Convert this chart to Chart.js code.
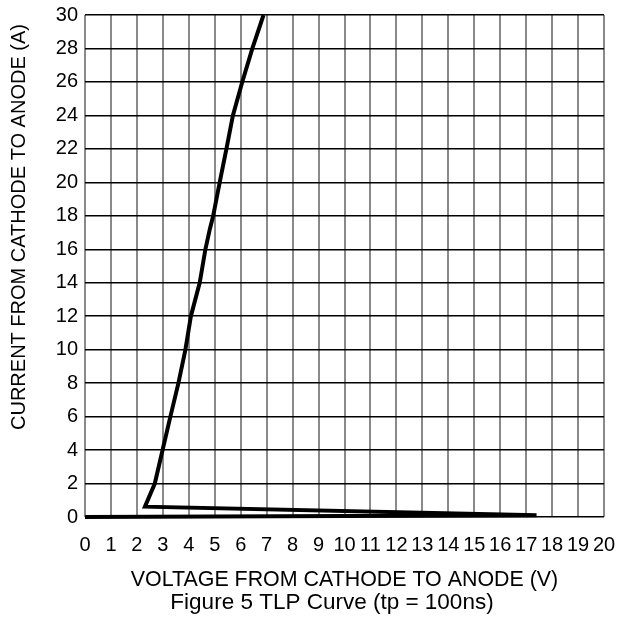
<!DOCTYPE html>
<html>
<head>
<meta charset="utf-8">
<script src="https://cdn.jsdelivr.net/npm/chart.js@4/dist/chart.umd.min.js"></script>
<style>
	html, body { margin: 0; padding: 0; background: #fff; }
	#wrap { width: 621px; height: 617px; position: relative; }
</style>
</head>
<body>
<div id="wrap"><canvas id="tlp_chart"></canvas></div>
<script>
// TLP curve: voltage (V) vs current (A)
var voltage = [0, 17.4, 2.31, 2.69, 2.99, 3.29, 3.60, 3.87, 4.08, 4.42, 4.64, 4.81, 4.94, 5.19, 5.45, 5.70, 6.06, 6.45, 6.88];
var current = [0, 0.10, 0.62, 2, 4, 6, 8, 10, 12, 14, 16, 17.2, 18, 20, 22, 24, 26, 28, 30];

var xMin = 0, xMax = 20, xStep = 1;
var yMin = 0, yMax = 30, yStep = 2;

var xTitle = "VOLTAGE FROM CATHODE TO ANODE (V)";
var yTitle = "CURRENT FROM CATHODE TO ANODE (A)";
var caption = "Figure 5 TLP Curve (tp = 100ns)";

var FONT = "'Liberation Sans', Arial, sans-serif";

var points = [];
for (var ix = 0; ix < voltage.length; ix++) {
	points.push({x: voltage[ix], y: current[ix]});
}

// y title and figure caption drawn by hand, both sit off-centre in the original
var extraTextPlugin = {
	id: 'extraText',
	afterDraw: function(chart) {
		var ctx = chart.ctx;
		ctx.save();
		ctx.fillStyle = "#000";
		ctx.textAlign = "center";
		ctx.textBaseline = "middle";

		ctx.font = "22.5px " + FONT;
		ctx.fillText(caption, 332, 603);

		ctx.translate(19, 227);
		ctx.rotate(-Math.PI / 2);
		ctx.font = "20px " + FONT;
		ctx.fillText(yTitle, 0, 0);
		ctx.restore();
	}
};

var ctx = document.getElementById("tlp_chart");
var tlpChart = new Chart(ctx, {
	type: 'scatter',
	data: {
		datasets: [{
			data: points,
			showLine: true,
			borderColor: "#000",
			borderWidth: 4,
			pointRadius: 0,
			tension: 0,
			clip: 4
		}]
	},
	options: {
		responsive: true,
		maintainAspectRatio: false,
		animation: false,
		layout: { padding: { left: 0, right: 17, top: 15, bottom: 0 } },
		plugins: {
			legend: { display: false },
			tooltip: { enabled: false }
		},
		scales: {
			x: {
				type: 'linear',
				min: xMin, max: xMax,
				border: { display: false },
				grid: { color: "#8a8a8a", lineWidth: 2, drawTicks: false },
				ticks: {
					stepSize: xStep, autoSkip: false, maxRotation: 0,
					padding: 16, color: "#000",
					font: { family: FONT, size: 20 }
				},
				title: {
					display: true, text: xTitle, color: "#000",
					font: { family: FONT, size: 21.4, lineHeight: 1.1 },
					padding: { top: 0, bottom: 25 }
				},
				afterFit: function(scale) {
					scale.height = 100;
					scale.paddingLeft = 0;
					scale.paddingRight = 0;
				}
			},
			y: {
				type: 'linear',
				min: yMin, max: yMax,
				border: { display: false },
				grid: { color: "#000", lineWidth: 1.5, drawTicks: false },
				ticks: {
					stepSize: yStep, autoSkip: false,
					padding: 7, color: "#000",
					font: { family: FONT, size: 20 }
				},
				afterFit: function(scale) {
					scale.width = 85;
					scale.paddingTop = 0;
					scale.paddingBottom = 0;
				}
			}
		}
	},
	plugins: [extraTextPlugin]
});
</script>
</body>
</html>
